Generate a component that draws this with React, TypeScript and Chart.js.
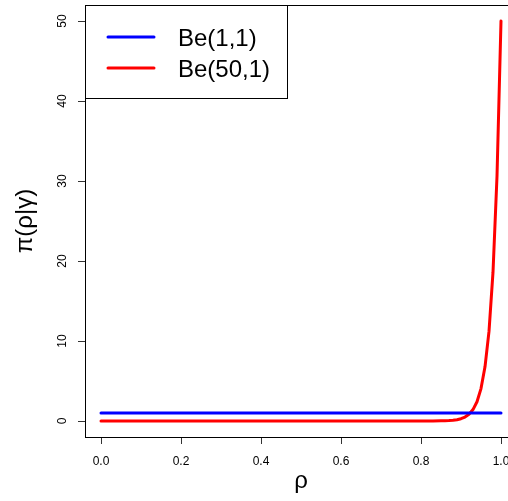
import React, { useEffect, useRef } from "react";
import { Chart, registerables } from "chart.js";

Chart.register(...registerables);

// rho grid and density values
const rhoValues = [0, 0.1, 0.2, 0.3, 0.4, 0.5, 0.6, 0.7, 0.75, 0.8, 0.83, 0.85, 0.86, 0.87, 0.88, 0.89, 0.9, 0.91, 0.92, 0.93, 0.94, 0.95, 0.96, 0.97, 0.98, 0.99, 1.0];
const be11Values = [1, 1, 1, 1, 1, 1, 1, 1, 1, 1, 1, 1, 1, 1, 1, 1, 1, 1, 1, 1, 1, 1, 1, 1, 1, 1, 1];
const be501Values = [0, 0, 0, 0, 0, 0, 0, 0, 0, 0.001, 0.005, 0.017, 0.031, 0.054, 0.095, 0.166, 0.29, 0.49, 0.84, 1.43, 2.41, 4.05, 6.77, 11.2, 18.6, 30.6, 50];
const seriesLabels = ["Be(1,1)", "Be(50,1)"];
const seriesColors = ["#0000FF", "#FF0000"];
const xTickValues = [0, 0.2, 0.4, 0.6, 0.8, 1.0];
const yTickValues = [0, 10, 20, 30, 40, 50];
const xTitle = "ρ";
const yTitle = "π(ρ|γ)";

const FONT = "'Liberation Sans', Arial, Helvetica, sans-serif";

const boxAndLegend = {
  id: "boxAndLegend",
  afterDraw(chart: any) {
    const { ctx, chartArea } = chart;
    const { left, top, right, bottom } = chartArea;
    ctx.save();
    ctx.strokeStyle = "#000";
    ctx.lineWidth = 1;
    ctx.strokeRect(Math.round(left) + 0.5, Math.round(top) + 0.5, Math.round(right - left), Math.round(bottom - top));
    // legend box
    const lx = Math.round(left) + 0.5;
    const ly = Math.round(top) + 0.5;
    ctx.fillStyle = "#fff";
    ctx.fillRect(lx, ly, 202, 93);
    ctx.strokeRect(lx, ly, 202, 93);
    chart.data.datasets.forEach((ds: any, i: number) => {
      const yLine = top + 32 + i * 31;
      ctx.strokeStyle = ds.borderColor;
      ctx.lineWidth = 3;
      ctx.lineCap = "round";
      ctx.beginPath();
      ctx.moveTo(left + 23, yLine);
      ctx.lineTo(left + 69, yLine);
      ctx.stroke();
      ctx.fillStyle = "#000";
      ctx.font = `24px ${FONT}`;
      ctx.textBaseline = "middle";
      ctx.textAlign = "left";
      ctx.fillText(ds.label, left + 93, yLine + 2);
    });
    ctx.restore();
  },
};

export default function App() {
  const ref = useRef<HTMLCanvasElement | null>(null);
  useEffect(() => {
    if (!ref.current) return;
    const chart = new Chart(ref.current, {
      type: "line",
      data: {
        datasets: [
          {
            label: seriesLabels[0],
            data: rhoValues.map((x, i) => ({ x, y: be11Values[i] })),
            borderColor: seriesColors[0],
            backgroundColor: seriesColors[0],
            borderWidth: 3,
            borderCapStyle: "round",
            borderJoinStyle: "round",
            pointRadius: 0,
            tension: 0,
          },
          {
            label: seriesLabels[1],
            data: rhoValues.map((x, i) => ({ x, y: be501Values[i] })),
            borderColor: seriesColors[1],
            backgroundColor: seriesColors[1],
            borderWidth: 3,
            borderCapStyle: "round",
            borderJoinStyle: "round",
            pointRadius: 0,
            tension: 0,
          },
        ],
      },
      options: {
        responsive: false,
        animation: false,
        devicePixelRatio: 1,
        layout: { padding: { top: 5, right: 7, left: 0, bottom: 0 } },
        plugins: { legend: { display: false }, tooltip: { enabled: false } },
        scales: {
          x: {
            type: "linear",
            min: -0.04,
            max: 1.04,
            afterBuildTicks: (s: any) => {
              s.ticks = xTickValues.map((v) => ({ value: v }));
            },
            afterFit: (s: any) => {
              s.height = 64;
              s.paddingLeft = 0;
              s.paddingRight = 0;
            },
            ticks: {
              autoSkip: false,
              maxRotation: 0,
              minRotation: 0,
              padding: 10,
              color: "#000",
              font: { family: FONT, size: 12 },
              callback: (v: any) => Number(v).toFixed(1),
            },
            grid: { drawOnChartArea: false, drawTicks: true, tickLength: 7, color: "#333", lineWidth: 1 },
            border: { display: false },
            title: { display: true, text: xTitle, color: "#000", font: { family: FONT, size: 24 }, padding: { top: 0, bottom: 5 } },
          },
          y: {
            type: "linear",
            min: -2,
            max: 52,
            afterBuildTicks: (s: any) => {
              s.ticks = yTickValues.map((v) => ({ value: v }));
            },
            afterFit: (s: any) => {
              s.width = 85;
              s.paddingTop = 0;
              s.paddingBottom = 0;
            },
            ticks: {
              autoSkip: false,
              minRotation: 90,
              maxRotation: 90,
              crossAlign: "center",
              padding: 9,
              color: "#000",
              font: { family: FONT, size: 12 },
              callback: (v: any) => String(v),
            },
            grid: { drawOnChartArea: false, drawTicks: true, tickLength: 7, color: "#333", lineWidth: 1 },
            border: { display: false },
            title: { display: true, text: yTitle, color: "#000", font: { family: FONT, size: 24 }, padding: { top: 11, bottom: 0 } },
          },
        },
      },
      plugins: [boxAndLegend],
    } as any);
    return () => chart.destroy();
  }, []);
  return (
    <div style={{ position: "absolute", left: 0, top: 0, width: 508, height: 501, overflow: "hidden", background: "#fff" }}>
      <canvas ref={ref} width={524} height={501} style={{ display: "block", width: 524, height: 501 }} />
    </div>
  );
}
